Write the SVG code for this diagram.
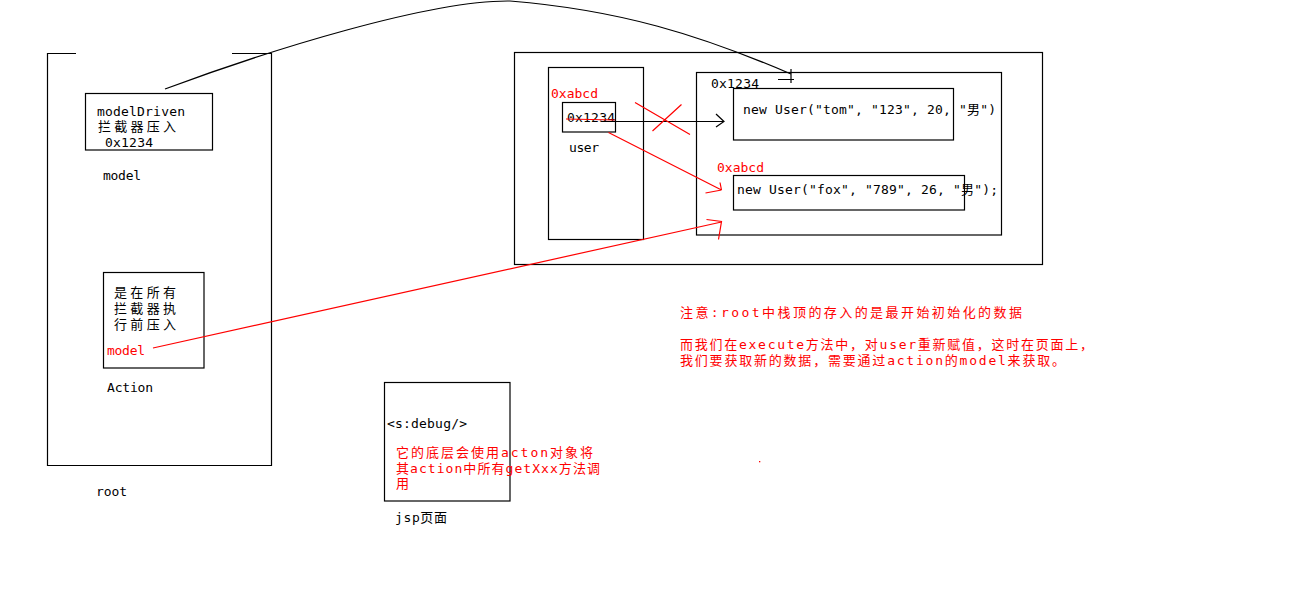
<svg xmlns="http://www.w3.org/2000/svg" width="1292" height="605" viewBox="0 0 1292 605">
<style>
.b{fill:none;stroke:#000;stroke-width:1.2}
.r{fill:none;stroke:#ff0000;stroke-width:1.2}
text{font-family:"DejaVu Sans Mono","Noto Sans CJK SC",monospace;font-size:13px;fill:#000}
.c{font-family:"Noto Sans CJK SC",sans-serif;font-size:13px}
.red{fill:#ff0000}
</style>
<rect width="1292" height="605" fill="#fff"/>
<g id="root">
<path class="b" d="M76,53.5 H47.5 V465.5 H271.5 V53.5 H232"/>
<text x="96" y="496" textLength="31">root</text>
</g>
<g id="modelDriven">
<rect class="b" x="85.5" y="93.5" width="127" height="56.5"/>
<text x="97" y="116" textLength="88">modelDriven</text>
<text class="c" x="98" y="131" textLength="78">拦截器压入</text>
<text x="105" y="147" textLength="48">0x1234</text>
<text x="103" y="180" textLength="38">model</text>
</g>
<g id="action">
<rect class="b" x="103.5" y="272.5" width="100.5" height="95.5"/>
<text class="c" x="114" y="297" textLength="62">是在所有</text>
<text class="c" x="114" y="313" textLength="62">拦截器执</text>
<text class="c" x="114" y="329" textLength="62">行前压入</text>
<text class="red" x="107" y="355" textLength="38">model</text>
<text x="107" y="392" textLength="46">Action</text>
</g>
<g id="stack">
<rect class="b" x="514.5" y="52.5" width="528" height="212"/>
</g>
<g id="user">
<rect class="b" x="548.5" y="67.5" width="95" height="172"/>
<text class="red" x="551" y="98" textLength="47">0xabcd</text>
<rect class="b" x="562.5" y="102.5" width="53" height="29.5"/>
<text x="567" y="122" textLength="48">0x1234</text>
<text x="569" y="152" textLength="30">user</text>
</g>
<g id="heap">
<rect class="b" x="696.5" y="72.5" width="305" height="162.5"/>
<text x="711" y="88" textLength="48">0x1234</text>
</g>
<g id="tom">
<rect class="b" x="733.5" y="88.5" width="220" height="51.5"/>
<text x="743" y="114" textLength="253">new User("tom", "123", 20, "男")</text>
</g>
<g id="fox">
<text class="red" x="717" y="172" textLength="47">0xabcd</text>
<rect class="b" x="733.5" y="175.5" width="231" height="34.5"/>
<text x="737" y="194" textLength="261">new User("fox", "789", 26, "男");</text>
</g>
<g id="note">
<text class="red" x="680" y="317" textLength="342">注意:root中栈顶的存入的是最开始初始化的数据</text>
<text class="red" x="680" y="349" textLength="413">而我们在execute方法中，对user重新赋值，这时在页面上，</text>
<text class="red" x="680" y="365" textLength="385">我们要获取新的数据，需要通过action的model来获取。</text>
</g>
<g id="jsp">
<rect class="b" x="384.5" y="382.5" width="125.5" height="118.5"/>
<text x="387" y="428" textLength="80">&lt;s:debug/&gt;</text>
<text class="red" x="396" y="457" textLength="197">它的底层会使用acton对象将</text>
<text class="red" x="396" y="473" textLength="204">其action中所有getXxx方法调</text>
<text class="red c" x="396" y="488">用</text>
<text x="395" y="522" textLength="52">jsp页面</text>
</g>
<g id="connectors">
<path class="b" d="M165,89 C270,50 430,0 510,1 C620,10 700,35 791,74"/>
<path class="b" d="M778,79.5 H794 M791,69 V83"/>
<path class="b" d="M602,121.5 H724 M716,114 L724,121.5 L716,127"/>
<path class="r" d="M566,119 L615,120"/>
<path class="r" d="M635,102.5 L690,134.5 M681.5,104.5 L652.5,131"/>
<path class="r" d="M608.5,132.5 L721.5,190 M720,182.5 L721.5,190 M705.5,193 L721.5,190"/>
<path class="r" d="M153,348 L721.5,222 M706.5,219.5 L721.5,221.5 L718.5,239.5"/>
<rect x="759" y="461" width="1.3" height="1.3" fill="#ff0000"/>
</g>
</svg>
